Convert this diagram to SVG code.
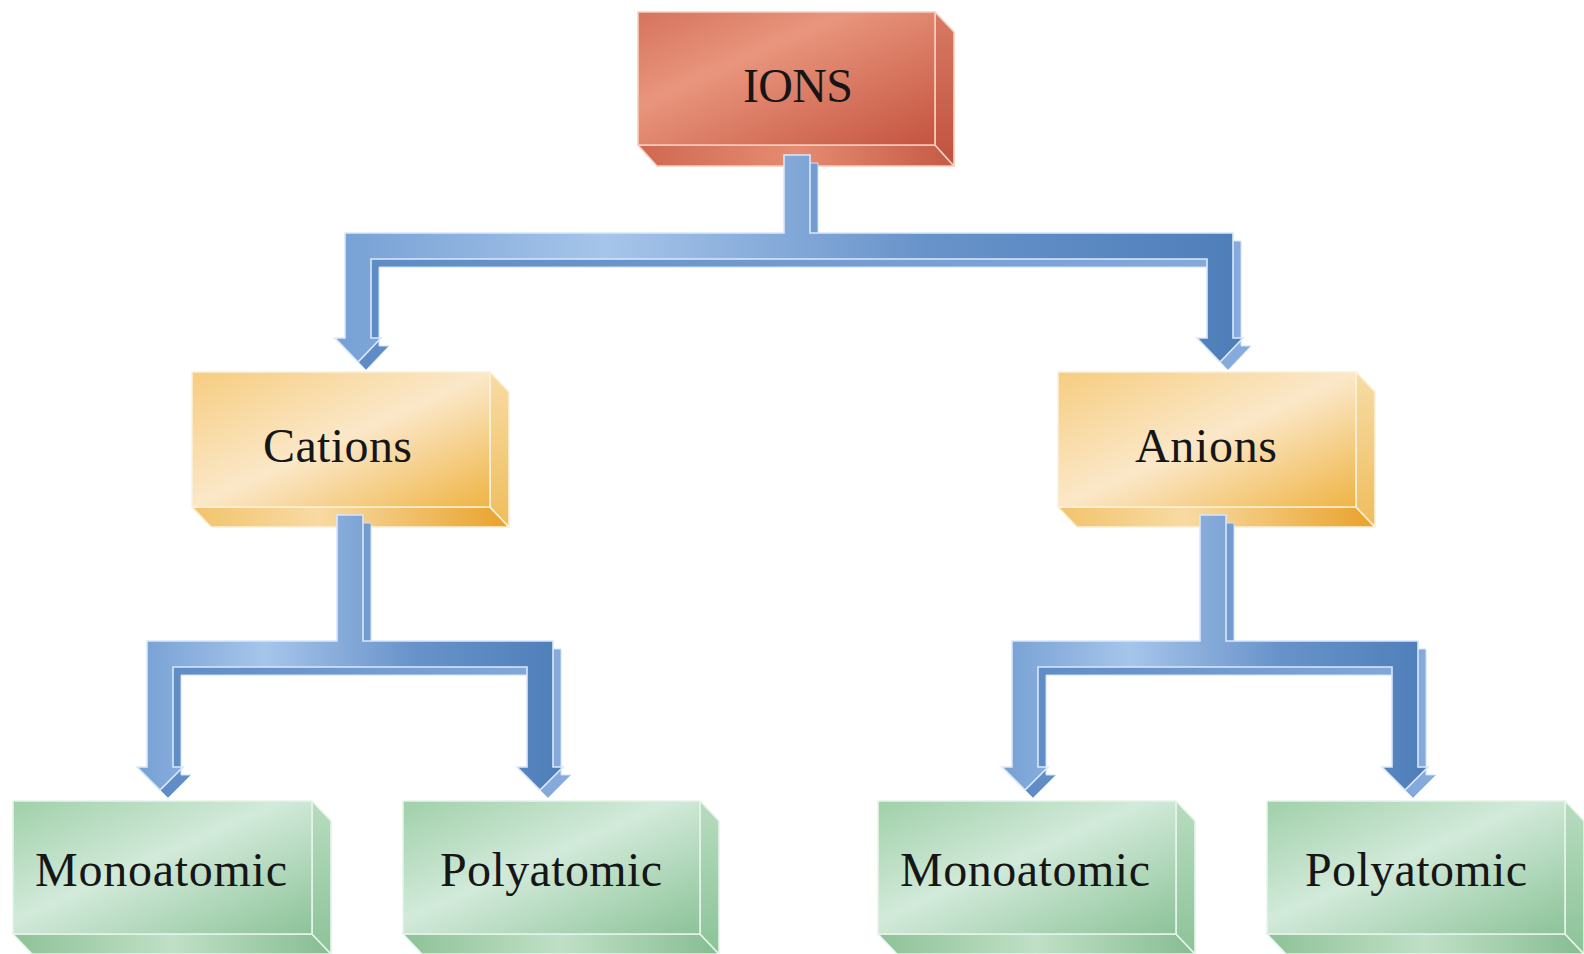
<svg xmlns="http://www.w3.org/2000/svg" width="1584" height="954" viewBox="0 0 1584 954">
<style>
.lbl{font-family:"Liberation Serif","Times New Roman",serif;font-size:48px;fill:#161616}
.edge{stroke-width:1.6;stroke-linejoin:round}
.r{stroke:#f7cdbf}
.y{stroke:#fdf0d6}
.g{stroke:#e6f4e9}
.front-conn{fill:url(#blueFront);stroke:#d9e8fb;stroke-width:1.6;stroke-linejoin:miter}
.ext-conn{fill:url(#blueExt);stroke:#cfe1f8;stroke-width:1}
</style>
<defs>
<linearGradient id="redFront" x1="0" y1="0" x2="1" y2="1">
<stop offset="0" stop-color="#d6735d"/><stop offset="0.35" stop-color="#e9957d"/><stop offset="1" stop-color="#c4543f"/>
</linearGradient>
<linearGradient id="redBottom" x1="0" y1="0" x2="1" y2="0">
<stop offset="0" stop-color="#cf6851"/><stop offset="0.5" stop-color="#e58c73"/><stop offset="1" stop-color="#c55a45"/>
</linearGradient>
<linearGradient id="redSide" x1="0" y1="0" x2="0" y2="1">
<stop offset="0" stop-color="#d77a63"/><stop offset="1" stop-color="#c0523f"/>
</linearGradient>
<linearGradient id="yelFront" x1="0" y1="0" x2="1" y2="1">
<stop offset="0" stop-color="#f6cd80"/><stop offset="0.5" stop-color="#fbe8c9"/><stop offset="1" stop-color="#efb444"/>
</linearGradient>
<linearGradient id="yelBottom" x1="0" y1="0" x2="1" y2="0">
<stop offset="0" stop-color="#f1c46d"/><stop offset="0.4" stop-color="#f8daa2"/><stop offset="1" stop-color="#e9a22c"/>
</linearGradient>
<linearGradient id="yelSide" x1="0" y1="0" x2="0" y2="1">
<stop offset="0" stop-color="#f7dca5"/><stop offset="1" stop-color="#efbd5c"/>
</linearGradient>
<linearGradient id="grnFront" x1="0" y1="0" x2="1" y2="1">
<stop offset="0" stop-color="#a0d0a9"/><stop offset="0.45" stop-color="#d2eada"/><stop offset="1" stop-color="#8cc398"/>
</linearGradient>
<linearGradient id="grnBottom" x1="0" y1="0" x2="1" y2="0">
<stop offset="0" stop-color="#8ec298"/><stop offset="0.5" stop-color="#bfe0c6"/><stop offset="1" stop-color="#86bd92"/>
</linearGradient>
<linearGradient id="grnSide" x1="0" y1="0" x2="0" y2="1">
<stop offset="0" stop-color="#b7dcbf"/><stop offset="1" stop-color="#8cc398"/>
</linearGradient>
<linearGradient id="blueFront" x1="0" y1="0" x2="1" y2="0">
<stop offset="0" stop-color="#76a0d4"/><stop offset="0.3" stop-color="#a6c5ea"/><stop offset="0.65" stop-color="#6893ca"/><stop offset="1" stop-color="#4e7eb9"/>
</linearGradient>
<linearGradient id="blueExt" x1="0" y1="0" x2="1" y2="0">
<stop offset="0" stop-color="#5e8bc4"/><stop offset="1" stop-color="#86abdc"/>
</linearGradient>
</defs>
<rect width="1584" height="954" fill="#ffffff"/>

<g id="ions">
<polygon class="edge r" points="638,145 935,145 954,166 657,166" fill="url(#redBottom)"/>
<polygon class="edge r" points="935,12 954,32 954,166 935,145" fill="url(#redSide)"/>
<rect class="edge r" x="638" y="12" width="297" height="133" fill="url(#redFront)"/>
<text class="lbl" x="743" y="102" textLength="110">IONS</text>
</g>

<g id="cations">
<polygon class="edge y" points="192,507 490,507 509,527 211,527" fill="url(#yelBottom)"/>
<polygon class="edge y" points="490,372 509,392 509,527 490,507" fill="url(#yelSide)"/>
<rect class="edge y" x="192" y="372" width="298" height="135" fill="url(#yelFront)"/>
<text class="lbl" x="263" y="462" textLength="149">Cations</text>
</g>

<g id="anions">
<polygon class="edge y" points="1058,507 1356,507 1375,527 1077,527" fill="url(#yelBottom)"/>
<polygon class="edge y" points="1356,372 1375,392 1375,527 1356,507" fill="url(#yelSide)"/>
<rect class="edge y" x="1058" y="372" width="298" height="135" fill="url(#yelFront)"/>
<text class="lbl" x="1135" y="462" textLength="142">Anions</text>
</g>

<g id="cation-mono">
<polygon class="edge g" points="13,934 312,934 331,954 32,954" fill="url(#grnBottom)"/>
<polygon class="edge g" points="312,801 331,821 331,954 312,934" fill="url(#grnSide)"/>
<rect class="edge g" x="13" y="801" width="299" height="133" fill="url(#grnFront)"/>
<text class="lbl" x="35" y="886" textLength="252">Monoatomic</text>
</g>

<g id="cation-poly">
<polygon class="edge g" points="403,934 700,934 719,954 422,954" fill="url(#grnBottom)"/>
<polygon class="edge g" points="700,801 719,821 719,954 700,934" fill="url(#grnSide)"/>
<rect class="edge g" x="403" y="801" width="297" height="133" fill="url(#grnFront)"/>
<text class="lbl" x="440" y="886" textLength="222">Polyatomic</text>
</g>

<g id="anion-mono">
<polygon class="edge g" points="878,934 1176,934 1195,954 897,954" fill="url(#grnBottom)"/>
<polygon class="edge g" points="1176,801 1195,821 1195,954 1176,934" fill="url(#grnSide)"/>
<rect class="edge g" x="878" y="801" width="298" height="133" fill="url(#grnFront)"/>
<text class="lbl" x="900" y="886" textLength="250">Monoatomic</text>
</g>

<g id="anion-poly">
<polygon class="edge g" points="1267,934 1565,934 1584,954 1286,954" fill="url(#grnBottom)"/>
<polygon class="edge g" points="1565,801 1584,821 1584,954 1565,934" fill="url(#grnSide)"/>
<rect class="edge g" x="1267" y="801" width="298" height="133" fill="url(#grnFront)"/>
<text class="lbl" x="1305" y="886" textLength="222">Polyatomic</text>
</g>

<g id="connectors">
<g id="conn-ions">
<path class="ext-conn" transform="translate(8,8)" d="M784,155 L810,155 L810,233 L1233,233 L1233,338 L1243,338 L1220,362 L1197,338 L1207,338 L1207,259 L371,259 L371,338 L381,338 L358,362 L335,338 L345,338 L345,233 L784,233 Z"/>
<path class="front-conn" d="M784,155 L810,155 L810,233 L1233,233 L1233,338 L1243,338 L1220,362 L1197,338 L1207,338 L1207,259 L371,259 L371,338 L381,338 L358,362 L335,338 L345,338 L345,233 L784,233 Z"/>
</g>
<g id="conn-cations">
<path class="ext-conn" transform="translate(8,8)" d="M337,515 L363,515 L363,641 L553,641 L553,767 L563,767 L540,790 L517,767 L527,767 L527,667 L173,667 L173,767 L183,767 L160,790 L137,767 L147,767 L147,641 L337,641 Z"/>
<path class="front-conn" d="M337,515 L363,515 L363,641 L553,641 L553,767 L563,767 L540,790 L517,767 L527,767 L527,667 L173,667 L173,767 L183,767 L160,790 L137,767 L147,767 L147,641 L337,641 Z"/>
</g>
<g id="conn-anions">
<path class="ext-conn" transform="translate(8,8)" d="M1200,515 L1226,515 L1226,641 L1418,641 L1418,767 L1428,767 L1405,790 L1382,767 L1392,767 L1392,667 L1038,667 L1038,767 L1048,767 L1025,790 L1002,767 L1012,767 L1012,641 L1200,641 Z"/>
<path class="front-conn" d="M1200,515 L1226,515 L1226,641 L1418,641 L1418,767 L1428,767 L1405,790 L1382,767 L1392,767 L1392,667 L1038,667 L1038,767 L1048,767 L1025,790 L1002,767 L1012,767 L1012,641 L1200,641 Z"/>
</g>
</g>
</svg>
